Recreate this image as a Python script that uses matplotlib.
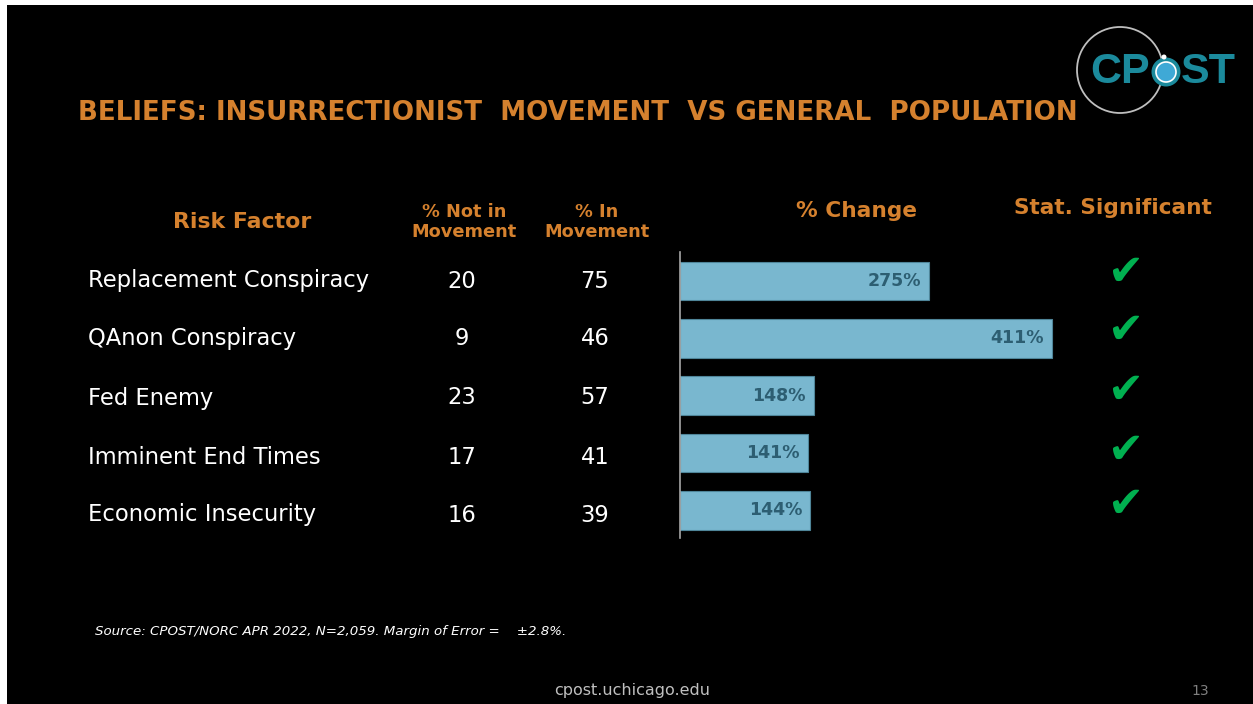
import matplotlib
matplotlib.use("Agg")
import matplotlib.pyplot as plt
from matplotlib.patches import Rectangle, Circle
from matplotlib.transforms import IdentityTransform

# ---- data ----
factors = ["Replacement Conspiracy", "QAnon Conspiracy", "Fed Enemy",
           "Imminent End Times", "Economic Insecurity"]
not_in_movement = [20, 9, 23, 17, 16]
in_movement = [75, 46, 57, 41, 39]
pct_change = [275, 411, 148, 141, 144]
significant = [True, True, True, True, True]

title = "BELIEFS: INSURRECTIONIST  MOVEMENT  VS GENERAL  POPULATION"
source = "Source: CPOST/NORC APR 2022, N=2,059. Margin of Error =    \u00b12.8%."

W, H = 1253, 704
ORANGE = "#D5812E"
BAR = "#79B7CF"
BARTXT = "#2D5E72"
GREEN = "#00B050"
TEAL = "#1B8A9C"
FONT = "DejaVu Sans"

fig = plt.figure(figsize=(W / 100, H / 100), dpi=100, facecolor="white")


def fx(x):
    return x / W


def fy(y):
    return 1 - y / H


# black slide
fig.patches.append(Rectangle((fx(7), 0), 1 - fx(7), fy(5), transform=fig.transFigure,
                             facecolor="black", edgecolor="none", zorder=-5))


def txt(x, y, s, **kw):
    kw.setdefault("family", FONT)
    fig.text(fx(x), fy(y), s, **kw)


# title
txt(78, 113, title, color=ORANGE, fontsize=18.8, fontweight="bold", ha="left", va="center")

# headers
txt(242, 222, "Risk Factor", color=ORANGE, fontsize=15.8, fontweight="bold", ha="center", va="center")
txt(464, 222, "% Not in\nMovement", color=ORANGE, fontsize=12.8, fontweight="bold",
    ha="center", va="center", linespacing=1.1)
txt(597, 222, "% In\nMovement", color=ORANGE, fontsize=12.8, fontweight="bold",
    ha="center", va="center", linespacing=1.1)
txt(856, 211, "% Change", color=ORANGE, fontsize=15.6, fontweight="bold", ha="center", va="center")
txt(1113, 208, "Stat. Significant", color=ORANGE, fontsize=15.6, fontweight="bold", ha="center", va="center")

# rows text
row_y = [281, 339, 398, 457, 515]
for i, f in enumerate(factors):
    y = row_y[i]
    txt(88, y, f, color="white", fontsize=16.3, ha="left", va="center")
    txt(462, y, str(not_in_movement[i]), color="white", fontsize=16.3, ha="center", va="center")
    txt(595, y, str(in_movement[i]), color="white", fontsize=16.3, ha="center", va="center")

# check marks
chk_y = [273, 331, 391, 451, 505]
for i, s in enumerate(significant):
    if s:
        txt(1125, chk_y[i], "\u2714", color=GREEN, fontsize=31, ha="center", va="center")

# bar axes
x0, x1 = 680, 1060
y0, y1 = 252, 538
ax = fig.add_axes([fx(x0), fy(y1), fx(x1) - fx(x0), fy(y0) - fy(y1)], zorder=2)
ax.set_facecolor("none")
ypos = list(range(len(factors)))
ax.barh(ypos, pct_change, height=0.67, color=BAR, edgecolor="#4F8599", linewidth=0.8)
ax.set_xlim(0, (x1 - x0) / 0.905)
ax.set_ylim(4.48, -0.505)
for yy, v in zip(ypos, pct_change):
    ax.text(v - 9, yy, f"{v}%", color=BARTXT, fontsize=12.5, fontweight="bold",
            ha="right", va="center", family=FONT)
for sp in ["top", "right", "bottom"]:
    ax.spines[sp].set_visible(False)
ax.spines["left"].set_color("#A6A6A6")
ax.spines["left"].set_linewidth(1.2)
ax.set_xticks([])
ax.set_yticks([])

# logo (pixel coords, y measured from bottom)
fig.patches.append(Circle((1120, H - 70), 43, transform=IdentityTransform(),
                          facecolor="none", edgecolor="#BFBFBF", linewidth=1.3, zorder=1))
txt(1150, 72, "CP", color=TEAL, fontsize=31, fontweight="bold", ha="right", va="center",
    family="Liberation Sans", zorder=3)
txt(1181, 72, "ST", color=TEAL, fontsize=31, fontweight="bold", ha="left", va="center",
    family="Liberation Sans", zorder=3)
fig.patches.append(Circle((1166, H - 72), 14.5, transform=IdentityTransform(),
                          facecolor=TEAL, edgecolor="none", zorder=2))
fig.patches.append(Circle((1166, H - 72), 10, transform=IdentityTransform(),
                          facecolor="#3FA9D6", edgecolor="white", linewidth=1.2, zorder=3))
fig.patches.append(Circle((1164, H - 57), 2.5, transform=IdentityTransform(),
                          facecolor="white", edgecolor="none", zorder=3))

# footer
txt(95, 631, source, color="white", fontsize=9.6, style="italic", ha="left", va="center")
txt(632, 691, "cpost.uchicago.edu", color="#BFBFBF", fontsize=11.5, ha="center", va="center")
txt(1200, 691, "13", color="#808080", fontsize=10, ha="center", va="center")

fig.savefig("out.png", dpi=100, facecolor=fig.get_facecolor())
